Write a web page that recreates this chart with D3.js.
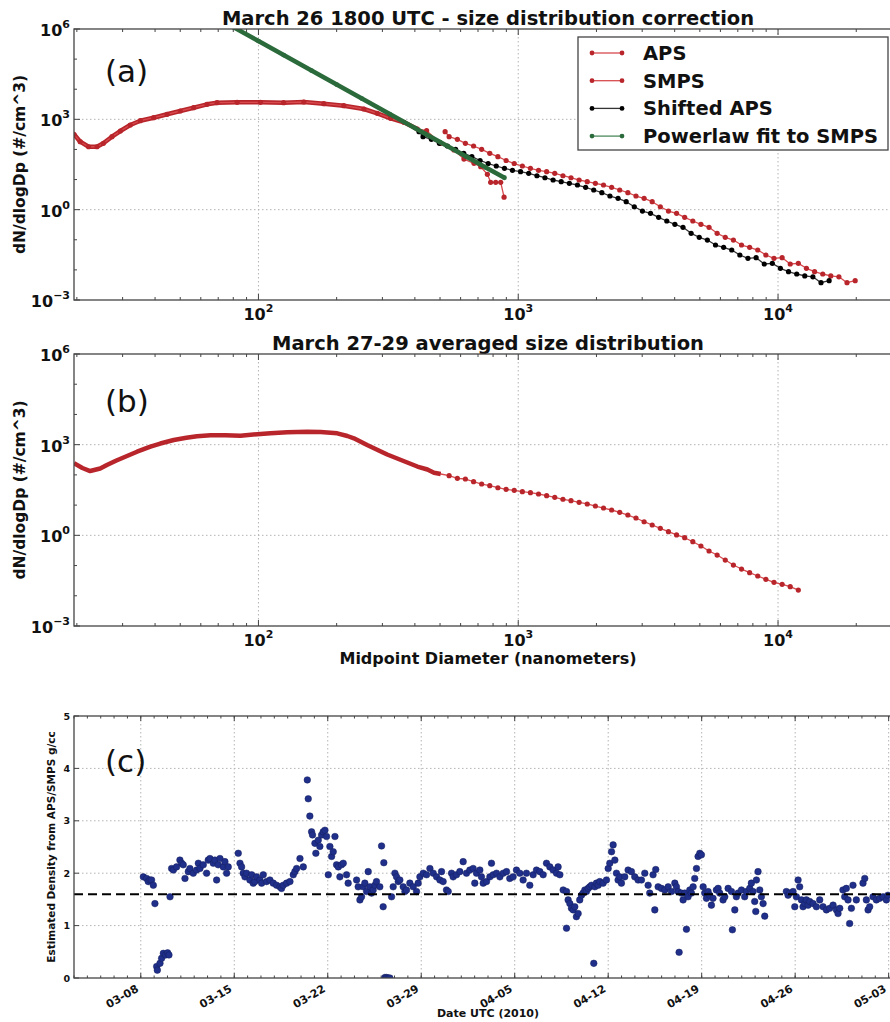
<!DOCTYPE html>
<html>
<head>
<meta charset="utf-8">
<script src="https://cdn.jsdelivr.net/npm/d3@7"></script>
<style>
body { margin: 0; background: #fff; }
svg { display: block; }
text { font-family: "DejaVu Sans", sans-serif; }
</style>
</head>
<body>
<svg id="chart"></svg>
<script>
// ---- panel (a): March 26 1800 UTC, diameters in nm, values dN/dlogDp ----
var smpsD = [19.5, 20.6, 22.2, 23.9, 25.3, 27.3, 29.4, 32.1, 35.1, 39.5, 44.5, 50.0, 56.3, 63.4, 69.3, 82.8, 101.8, 125, 149.5, 178.5, 213, 254.5, 286.7, 322.6, 363, 409, 444, 502.6, 565.7, 618, 675.5, 717, 760.7, 783, 819, 856, 882];
var smpsV = [318, 181, 123, 123, 160, 265, 409, 648, 901, 1133, 1469, 1891, 2433, 3155, 3566, 3680, 3680, 3566, 3770, 3300, 2835, 2205, 1585, 1081, 795, 477, 419, 160, 95.8, 48, 34.6, 26.7, 14.9, 8.1, 8.1, 8.1, 2.6];

var apsD = [523, 542, 583, 626, 673, 723, 777, 835, 898, 965, 1037, 1114, 1197, 1286, 1382, 1486, 1596, 1715, 1843, 1981, 2129, 2288, 2458, 2642, 2839, 3051, 3278, 3523, 3786, 4068, 4371, 4698, 5048, 5425, 5829, 6264, 6732, 7234, 7774, 8354, 8977, 9647, 10370, 11140, 11970, 12860, 13820, 14860, 15960, 17150, 18430, 19810];
var apsV = [388, 265, 217, 160, 130, 101, 74.5, 57.4, 43, 34.1, 28.2, 23.6, 20.3, 18.2, 16.1, 13.4, 11.5, 9.66, 8.49, 7.5, 6.59, 5.53, 4.5, 3.66, 2.84, 2.38, 1.84, 1.25, 0.90, 0.757, 0.557, 0.42, 0.327, 0.26, 0.164, 0.121, 0.098, 0.067, 0.056, 0.0457, 0.0312, 0.0243, 0.0254, 0.0157, 0.0165, 0.0113, 0.0087, 0.0073, 0.0063, 0.0059, 0.00375, 0.00438];

// shifted APS: same values as apsV, at these diameters
var shiftD = [415, 430, 463, 497, 534, 574, 617, 663, 713, 766, 823, 885, 950, 1021, 1097, 1180, 1267, 1362, 1463, 1573, 1690, 1817, 1952, 2098, 2254, 2422, 2603, 2797, 3006, 3230, 3471, 3730, 4008, 4307, 4628, 4974, 5345, 5744, 6173, 6633, 7128, 7660, 8234, 8845, 9504, 10211, 10973, 11799, 12672, 13617, 14633, 15729];

var fitD = [80, 100, 125, 160, 200, 250, 320, 400, 500, 630, 750, 885];
var fitV = [1.16e6, 3.98e5, 1.36e5, 4.17e4, 1.43e4, 4900, 1500, 513, 176, 58, 25, 11.5];

// ---- panel (b): March 27-29 average ----
var avgSmpsD = [19.5, 21.0, 22.5, 24.6, 26.1, 28.4, 31.2, 34.1, 38.4, 41.9, 47.2, 52.8, 58.0, 65.4, 74.6, 85.3, 98.9, 111.2, 129, 154, 173.5, 201, 220, 233, 262, 313, 374, 409, 447, 474, 503];
var avgSmpsV = [242, 169, 134, 163, 212, 299, 422, 585, 855, 1091, 1426, 1687, 1905, 2041, 2041, 1963, 2218, 2376, 2584, 2683, 2624, 2376, 1936, 1622, 975, 472, 257, 189, 151, 118, 107];
var avgApsD = [542, 583, 626, 673, 723, 777, 835, 898, 965, 1037, 1114, 1197, 1286, 1382, 1486, 1596, 1715, 1843, 1981, 2129, 2288, 2458, 2642, 2839, 3051, 3278, 3523, 3786, 4068, 4371, 4698, 5048, 5425, 5829, 6264, 6732, 7234, 7774, 8354, 8977, 9647, 10370, 11140, 11970];
var avgApsV = [94, 77, 73, 59.5, 49.9, 43.8, 37.6, 33.3, 30.9, 27.8, 25.7, 23.3, 20.5, 18.1, 15.6, 14.0, 12.4, 10.9, 9.33, 8.02, 6.89, 5.78, 4.70, 3.74, 2.82, 2.20, 1.71, 1.32, 1.03, 0.834, 0.615, 0.443, 0.303, 0.223, 0.152, 0.104, 0.0767, 0.058, 0.0451, 0.0351, 0.0279, 0.0239, 0.02, 0.0155];

var xMajor = [100, 1000, 10000];
var yMajor = [1e-3, 1, 1e3, 1e6];
var yMajorExp = ['\u22123', '0', '3', '6'];
var xMajorExp = ['2', '3', '4'];

// ---- panel (c): density, time as day of year 2010 ----
var densDoy = [67.19,67.44,67.56,67.69,67.81,67.94,68.06,
68.19,68.24,68.44,68.56,68.69,68.86,69.01,69.11,69.19,
69.31,69.44,69.68,69.93,70.06,70.18,70.31,70.56,70.68,70.93,71.18,71.31,71.43,71.68,71.93,72.05,72.18,72.43,72.55,72.68,72.8,72.93,73.18,73.3,73.43,73.55,
74.3,74.43,74.55,74.67,74.8,74.92,75.17,75.3,75.42,75.55,75.67,75.92,76.05,76.17,76.42,76.67,76.92,77.17,77.42,77.54,77.67,77.92,78.17,78.42,78.54,78.67,78.92,79.17,
79.47,79.54,79.66,79.79,79.86,80.04,80.11,80.29,80.41,80.54,80.66,80.79,80.91,81.04,81.16,81.29,81.41,81.54,81.66,81.79,81.91,82.03,82.16,82.41,82.53,
83.16,83.28,83.41,83.53,83.66,83.78,83.91,84.03,84.16,84.28,84.4,84.53,84.65,84.9,85.03,85.15,85.2,85.28,85.4,85.53,85.65,85.78,85.9,86.03,86.15,86.28,86.4,86.65,86.78,86.9,87.15,87.4,87.65,87.77,87.9,88.15,88.4,88.65,88.9,89.15,89.4,89.52,89.64,89.89,
90.02,90.27,90.39,90.64,90.89,91.14,91.39,91.64,91.89,92.01,92.14,92.39,92.51,92.64,92.89,93.14,93.26,93.39,93.64,93.89,94.14,94.39,94.63,94.88,95.13,95.38,95.63,95.88,96.13,96.38,96.63,96.88,97.13,97.38,97.63,97.88,98.13,98.25,98.38,
98.63,98.88,99.0,98.88,99.13,99.25,99.38,99.5,99.62,99.75,99.87,100.0,100.12,100.25,100.37,100.5,100.62,100.75,100.92,101.0,101.12,101.25,101.37,101.62,101.87,102.0,102.12,102.25,102.37,102.5,102.62,102.74,102.87,102.99,103.24,103.49,103.74,103.99,104.24,104.49,104.74,104.99,105.11,105.36,105.49,105.56,105.74,105.99,106.24,106.49,106.74,106.99,107.11,107.23,107.31,107.48,107.61,107.73,107.86,107.98,108.11,108.23,108.36,108.48,108.61,108.73,108.86,108.98,109.11,109.23,109.36,109.48,109.6,109.73,109.85,110.1,110.23,110.35,110.6,110.73,110.98,111.23,111.3,111.48,111.6,111.73,111.98,112.22,112.35,112.6,112.72,112.85,112.97,113.05,113.1,113.22,113.35,113.47,113.6,113.72,
115.34,115.47,115.59,115.84,115.97,116.09,116.22,116.34,116.47,116.59,116.72,116.84,116.97,117.09,117.34,117.59,117.84,118.09,118.34,118.59,118.84,119.09,119.21,119.34,119.58,119.71,119.83,119.96,120.08,120.21,120.33,120.58,121.08,121.21,121.33,121.46,121.58,121.83,122.08,122.33,122.58,122.83,122.95];
var densVal = [1.93,1.90,1.84,1.87,1.87,1.77,1.42,
0.22,0.15,0.28,0.375,0.47,0.44,0.48,0.44,1.55,
2.09,2.06,2.12,2.25,2.19,2.16,1.90,2.03,2.09,2.0,2.06,2.19,2.09,2.16,2.0,2.25,2.28,2.19,2.25,1.87,2.16,2.28,2.12,2.22,2.0,2.12,
2.38,2.19,2.12,2.0,1.93,2.0,1.87,1.97,1.81,1.84,1.93,1.87,1.81,1.97,1.84,1.87,1.81,1.77,1.74,1.71,1.77,1.81,1.84,1.97,2.03,2.09,2.28,2.12,
3.78,3.42,3.09,2.79,2.73,2.57,2.38,2.63,2.51,2.73,2.79,2.82,2.70,1.97,2.51,2.32,2.41,2.70,2.16,2.12,1.93,2.16,2.19,1.97,1.81,
1.87,1.74,1.49,1.55,1.74,1.81,1.65,2.03,1.74,1.62,1.68,1.77,1.84,1.74,2.52,1.36,2.20,0.01,0.01,0.0,0.0,1.55,1.74,2.0,1.93,1.84,1.87,1.74,1.65,1.68,1.81,1.74,1.65,1.81,1.93,2.0,1.97,2.09,2.0,1.93,1.87,2.03,1.84,1.68,
1.65,2.0,1.93,1.97,2.03,2.22,2.0,2.06,2.09,1.81,2.0,2.06,1.93,1.81,1.84,1.93,2.19,1.97,2.0,1.93,2.0,2.03,1.90,1.93,2.06,2.0,1.87,2.0,1.77,1.97,2.06,2.03,1.97,2.19,2.12,2.06,2.0,2.12,1.97,
1.68,1.65,1.49,0.95,1.42,1.33,1.30,1.36,1.17,1.23,1.49,1.58,1.62,1.68,1.65,1.71,1.74,1.77,0.28,1.74,1.81,1.77,1.84,1.81,1.87,2.09,2.19,2.41,2.54,2.25,2.0,1.87,1.93,1.81,1.93,2.06,2.03,1.93,1.87,1.87,2.0,1.77,1.62,1.97,1.30,2.07,1.74,1.71,1.68,1.74,1.65,1.81,1.74,1.65,0.49,1.62,1.49,1.62,0.93,1.55,1.68,1.62,1.74,1.90,2.09,2.32,2.38,2.35,1.74,1.62,1.52,1.65,1.58,1.39,1.52,1.68,1.71,1.62,1.49,1.55,1.71,1.65,0.92,1.30,1.55,1.62,1.68,1.55,1.65,1.71,1.81,1.65,1.46,1.27,1.87,2.03,1.68,1.55,1.42,1.18,
1.65,1.58,1.62,1.65,1.36,1.55,1.87,1.74,1.49,1.36,1.42,1.49,1.39,1.46,1.42,1.36,1.49,1.36,1.30,1.33,1.39,1.30,1.23,1.33,1.68,1.55,1.71,1.49,1.04,1.33,1.77,1.49,1.81,1.90,1.49,1.30,1.36,1.55,1.49,1.52,1.55,1.49,1.58];
var densRef = 1.6;
var dateTicks = ['2010-03-08', '2010-03-15', '2010-03-22', '2010-03-29', '2010-04-05', '2010-04-12', '2010-04-19', '2010-04-26', '2010-05-03'];
var densTicks = [0, 1, 2, 3, 4, 5];

var W = 890, H = 1022;
var svg = d3.select('#chart').attr('width', W).attr('height', H);
var left = 74, right = 902;
var frameColor = '#444', gridColor = '#b4b4b4';
var red = '#b8262c', redLine = '#d84a4e', green = '#2a6a3b', navy = '#1f2f8a';

var x = d3.scaleLog().domain([19.5, 30000]).range([left, right]);

function logPanel(top, bottom, title, id) {
  var y = d3.scaleLog().domain([1e-3, 1e6]).range([bottom, top]);
  var g = svg.append('g');
  // grid
  g.selectAll(null).data(xMajor).enter().append('line')
    .attr('x1', function (d) { return x(d); }).attr('x2', function (d) { return x(d); })
    .attr('y1', top).attr('y2', bottom)
    .attr('stroke', gridColor).attr('stroke-dasharray', '1.5,2.5');
  g.selectAll(null).data([1, 1e3]).enter().append('line')
    .attr('x1', left).attr('x2', right)
    .attr('y1', function (d) { return y(d); }).attr('y2', function (d) { return y(d); })
    .attr('stroke', gridColor).attr('stroke-dasharray', '1.5,2.5');

  // minor ticks x
  var minors = [];
  [10, 100, 1000, 10000].forEach(function (p) {
    for (var k = 2; k <= 9; k++) { if (p * k > 19.5 && p * k < 30000) minors.push(p * k); }
  });
  [bottom, top].forEach(function (yy, s) {
    var dir = s === 0 ? -1 : 1;
    g.selectAll(null).data(minors).enter().append('line')
      .attr('x1', function (d) { return x(d); }).attr('x2', function (d) { return x(d); })
      .attr('y1', yy).attr('y2', yy + dir * 3).attr('stroke', frameColor);
    g.selectAll(null).data(xMajor).enter().append('line')
      .attr('x1', function (d) { return x(d); }).attr('x2', function (d) { return x(d); })
      .attr('y1', yy).attr('y2', yy + dir * 6).attr('stroke', frameColor);
  });
  // y ticks
  var yMinor = [1e-2, 1e-1, 10, 100, 1e4, 1e5];
  g.selectAll(null).data(yMinor).enter().append('line')
    .attr('x1', left).attr('x2', left + 3)
    .attr('y1', function (d) { return y(d); }).attr('y2', function (d) { return y(d); })
    .attr('stroke', frameColor);
  g.selectAll(null).data(yMajor).enter().append('line')
    .attr('x1', left).attr('x2', left + 6)
    .attr('y1', function (d) { return y(d); }).attr('y2', function (d) { return y(d); })
    .attr('stroke', frameColor);

  // tick labels
  var xl = g.selectAll(null).data(xMajor).enter().append('text')
    .attr('x', function (d) { return x(d); }).attr('y', bottom + 20)
    .attr('text-anchor', 'middle').attr('font-weight', 'bold').attr('font-size', 16).attr('fill', '#111');
  xl.append('tspan').text('10');
  xl.append('tspan').attr('dy', -8).attr('font-size', 11).text(function (d, i) { return xMajorExp[i]; });

  var yl = g.selectAll(null).data(yMajor).enter().append('text')
    .attr('x', 70).attr('y', function (d) { return y(d) + 7; })
    .attr('text-anchor', 'end').attr('font-weight', 'bold').attr('font-size', 16).attr('fill', '#111');
  yl.append('tspan').text('10');
  yl.append('tspan').attr('dy', -8).attr('font-size', 11).text(function (d, i) { return yMajorExp[i]; });

  g.append('text').attr('x', (left + right) / 2).attr('y', top - 4)
    .attr('text-anchor', 'middle').attr('font-weight', 'bold').attr('font-size', 19.5).attr('fill', '#111')
    .text(title);
  g.append('text').attr('transform', 'translate(25,' + (top + bottom) / 2 + ') rotate(-90)')
    .attr('text-anchor', 'middle').attr('font-weight', 'bold').attr('font-size', 15.5).attr('fill', '#111')
    .text('dN/dlogDp (#/cm^3)');

  svg.append('clipPath').attr('id', id).append('rect')
    .attr('x', left).attr('y', top).attr('width', right - left).attr('height', bottom - top);
  var data = svg.append('g').attr('clip-path', 'url(#' + id + ')');
  svg.append('rect').attr('x', left).attr('y', top).attr('width', right - left).attr('height', bottom - top)
    .attr('fill', 'none').attr('stroke', frameColor).attr('stroke-width', 1.3);
  return { y: y, data: data };
}

function series(g, y, xs, ys, lineColor, lineW, dotColor, r) {
  var pts = xs.map(function (d, i) { return [x(d), y(ys[i])]; });
  if (lineW) {
    g.append('path').attr('d', d3.line()(pts)).attr('fill', 'none')
      .attr('stroke', lineColor).attr('stroke-width', lineW).attr('stroke-linejoin', 'round');
  }
  if (r) {
    g.selectAll(null).data(pts).enter().append('circle')
      .attr('cx', function (d) { return d[0]; }).attr('cy', function (d) { return d[1]; })
      .attr('r', r).attr('fill', dotColor);
  }
}

// ---- panel (a)
var pa = logPanel(29, 300, 'March 26 1800 UTC - size distribution correction', 'clipA');
series(pa.data, pa.y, apsD, apsV, redLine, 1.3, red, 2.6);
var denseN = smpsD.filter(function (d) { return d < 430; }).length;
series(pa.data, pa.y, smpsD.slice(0, denseN), smpsV.slice(0, denseN), red, 4.5, red, 0);
series(pa.data, pa.y, smpsD, smpsV, redLine, 1.3, red, 2.6);
series(pa.data, pa.y, shiftD, apsV, '#333', 1.3, '#000', 2.6);
series(pa.data, pa.y, fitD, fitV, green, 4.5, green, 2.4);

// legend
var leg = svg.append('g');
leg.append('rect').attr('x', 578).attr('y', 37).attr('width', 310).attr('height', 113)
  .attr('fill', '#fff').attr('stroke', frameColor).attr('stroke-width', 1.3);
var legItems = [
  { name: 'APS', line: redLine, dot: red },
  { name: 'SMPS', line: redLine, dot: red },
  { name: 'Shifted APS', line: '#333', dot: '#000' },
  { name: 'Powerlaw fit to SMPS', line: '#4d8a5c', dot: green }
];
legItems.forEach(function (d, i) {
  var yy = 53 + i * 27.7;
  leg.append('line').attr('x1', 592).attr('x2', 622).attr('y1', yy).attr('y2', yy)
    .attr('stroke', d.line).attr('stroke-width', 1.3);
  [592, 622].forEach(function (xx) {
    leg.append('circle').attr('cx', xx).attr('cy', yy).attr('r', 2.4).attr('fill', d.dot);
  });
  leg.append('text').attr('x', 643).attr('y', yy + 7).attr('font-weight', 'bold')
    .attr('font-size', 19.5).attr('fill', '#111').text(d.name);
});

// ---- panel (b)
var pb = logPanel(354, 626, 'March 27-29 averaged size distribution', 'clipB');
series(pb.data, pb.y, avgSmpsD.concat(avgApsD), avgSmpsV.concat(avgApsV), redLine, 1.3, red, 0);
series(pb.data, pb.y, avgSmpsD, avgSmpsV, red, 4.5, red, 0);
series(pb.data, pb.y, avgApsD, avgApsV, redLine, 0, red, 2.6);
svg.append('text').attr('x', (left + right) / 2).attr('y', 664)
  .attr('text-anchor', 'middle').attr('font-weight', 'bold').attr('font-size', 16).attr('fill', '#111')
  .text('Midpoint Diameter (nanometers)');

// ---- panel (c)
var cTop = 716, cBot = 978;
var day0 = Date.UTC(2010, 0, 1);
function doyDate(d) { return new Date(day0 + (d - 1) * 864e5); }
var xt = d3.scaleUtc().domain([new Date(Date.UTC(2010, 2, 3)), new Date(Date.UTC(2010, 4, 4))]).range([left, right]);
var yc = d3.scaleLinear().domain([0, 5]).range([cBot, cTop]);
var ticksC = dateTicks.map(function (s) { return new Date(s + 'T00:00:00Z'); });
var gc = svg.append('g');
gc.selectAll(null).data(ticksC).enter().append('line')
  .attr('x1', function (d) { return xt(d); }).attr('x2', function (d) { return xt(d); })
  .attr('y1', cTop).attr('y2', cBot).attr('stroke', gridColor).attr('stroke-dasharray', '1.5,2.5');
gc.selectAll(null).data(densTicks.slice(1, 5)).enter().append('line')
  .attr('x1', left).attr('x2', right)
  .attr('y1', function (d) { return yc(d); }).attr('y2', function (d) { return yc(d); })
  .attr('stroke', gridColor).attr('stroke-dasharray', '1.5,2.5');
var days = d3.utcDay.range(xt.domain()[0], xt.domain()[1]);
[cBot, cTop].forEach(function (yy, s) {
  var dir = s === 0 ? -1 : 1;
  gc.selectAll(null).data(days).enter().append('line')
    .attr('x1', function (d) { return xt(d); }).attr('x2', function (d) { return xt(d); })
    .attr('y1', yy).attr('y2', yy + dir * 2.5).attr('stroke', frameColor);
  gc.selectAll(null).data(ticksC).enter().append('line')
    .attr('x1', function (d) { return xt(d); }).attr('x2', function (d) { return xt(d); })
    .attr('y1', yy).attr('y2', yy + dir * 5).attr('stroke', frameColor);
});
gc.selectAll(null).data(densTicks).enter().append('line')
  .attr('x1', left).attr('x2', left + 5)
  .attr('y1', function (d) { return yc(d); }).attr('y2', function (d) { return yc(d); })
  .attr('stroke', frameColor);
gc.selectAll(null).data(densTicks).enter().append('text')
  .attr('x', 70).attr('y', function (d) { return yc(d) + 3.5; })
  .attr('text-anchor', 'end').attr('font-weight', 'bold').attr('font-size', 9.5).attr('fill', '#111')
  .text(function (d) { return d; });
var fmt = d3.utcFormat('%m-%d');
gc.selectAll(null).data(ticksC).enter().append('text')
  .attr('transform', function (d) { return 'translate(' + (xt(d) - 1.5) + ',991) rotate(-30)'; })
  .attr('text-anchor', 'end').attr('font-weight', 'bold').attr('font-size', 11).attr('fill', '#111')
  .text(function (d) { return fmt(d); });
gc.append('text').attr('x', 488).attr('y', 1017).attr('text-anchor', 'middle')
  .attr('font-weight', 'bold').attr('font-size', 11).attr('fill', '#111').text('Date UTC (2010)');
gc.append('text').attr('transform', 'translate(55,' + (cTop + cBot) / 2 + ') rotate(-90)')
  .attr('text-anchor', 'middle').attr('font-weight', 'bold').attr('font-size', 10.5).attr('fill', '#111')
  .text('Estimated Density from APS/SMPS g/cc');

svg.append('clipPath').attr('id', 'clipC').append('rect')
  .attr('x', left).attr('y', cTop).attr('width', right - left).attr('height', cBot - cTop);
var dc = svg.append('g').attr('clip-path', 'url(#clipC)');
dc.selectAll(null).data(densDoy).enter().append('circle')
  .attr('cx', function (d) { return xt(doyDate(d)); })
  .attr('cy', function (d, i) { return yc(densVal[i]); })
  .attr('r', 3.3).attr('fill', navy).attr('stroke', '#16205e').attr('stroke-width', 0.5);
dc.append('line').attr('x1', left).attr('x2', right).attr('y1', yc(densRef)).attr('y2', yc(densRef))
  .attr('stroke', '#000').attr('stroke-width', 2).attr('stroke-dasharray', '9,5');
svg.append('rect').attr('x', left).attr('y', cTop).attr('width', right - left).attr('height', cBot - cTop)
  .attr('fill', 'none').attr('stroke', frameColor).attr('stroke-width', 1.3);

// panel letters
[['(a)', 82], ['(b)', 412], ['(c)', 772]].forEach(function (d) {
  svg.append('text').attr('x', 105).attr('y', d[1]).attr('font-size', 31).attr('fill', '#111').text(d[0]);
});
</script>
</body>
</html>
